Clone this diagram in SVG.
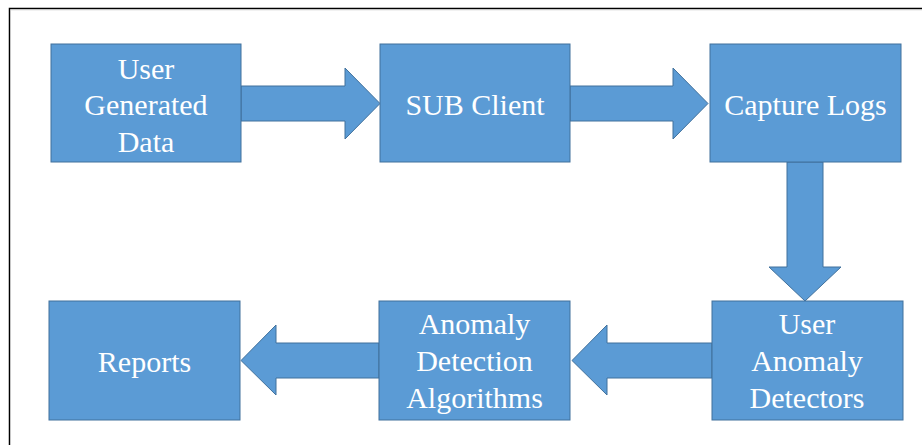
<svg xmlns="http://www.w3.org/2000/svg" width="922" height="445" viewBox="0 0 922 445">
<style>
.box{fill:#5B9BD5;stroke:#41719C;stroke-width:1}
.arr{fill:#5B9BD5;stroke:#41719C;stroke-width:1;stroke-linejoin:miter}
.t{font-family:'Liberation Serif','DejaVu Serif',serif;font-size:30px;fill:#ffffff;text-anchor:middle}
</style>
<rect width="922" height="445" fill="#ffffff"/>
<path d="M9.5 445 V8.5 H922" fill="none" stroke="#000000" stroke-width="1.5"/>
<path d="M10.5 445 V9.8 H922" fill="none" stroke="#c8c8c8" stroke-width="0.8"/>
<g id="connectors">
<path class="arr" d="M241 86 H345 V68 L380 103.5 L345 139 V121 H241 Z"/>
<path class="arr" d="M570 86 H673 V68 L708 103.5 L673 139 V121 H570 Z"/>
<path class="arr" d="M787 162 V267 H769 L805 301 L841 267 H823 V162 Z"/>
<path class="arr" d="M712 343 H607 V325 L572 360.5 L607 395 V378 H712 Z"/>
<path class="arr" d="M379 343 H276 V325 L241 360.5 L276 395 V378 H379 Z"/>
</g>
<g id="user-generated-data">
<rect class="box" x="51" y="44" width="190" height="118"/>
<text class="t" font-family="Liberation Serif, serif" x="146" y="79">User</text>
<text class="t" x="146" y="115">Generated</text>
<text class="t" x="146" y="152">Data</text>
</g>
<g id="sub-client">
<rect class="box" x="380" y="44" width="190" height="118"/>
<text class="t" x="475" y="115">SUB Client</text>
</g>
<g id="capture-logs">
<rect class="box" x="710" y="44" width="191" height="118"/>
<text class="t" x="805.5" y="115">Capture Logs</text>
</g>
<g id="user-anomaly-detectors">
<rect class="box" x="712" y="301" width="191" height="119"/>
<text class="t" x="807" y="334">User</text>
<text class="t" x="807" y="371">Anomaly</text>
<text class="t" x="807" y="408">Detectors</text>
</g>
<g id="anomaly-detection-algorithms">
<rect class="box" x="379" y="301" width="191" height="119"/>
<text class="t" x="474.5" y="334">Anomaly</text>
<text class="t" x="474.5" y="371">Detection</text>
<text class="t" x="474.5" y="408">Algorithms</text>
</g>
<g id="reports">
<rect class="box" x="49" y="301" width="191" height="119"/>
<text class="t" x="144.5" y="372">Reports</text>
</g>
</svg>
